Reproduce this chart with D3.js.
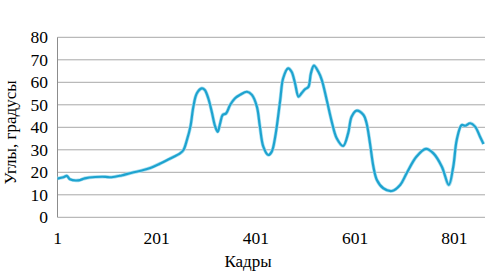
<!DOCTYPE html>
<html>
<head>
<meta charset="utf-8">
<script src="https://cdn.jsdelivr.net/npm/d3@7"></script>
<style>
  body { margin: 0; background: #fff; }
  text { font-family: "Liberation Serif", "Times New Roman", serif; fill: #000; }
</style>
</head>
<body>
<div id="chart"></div>
<script>
// frame numbers and angle values
var frames = [1, 13, 20, 26, 43, 56, 77, 97, 110, 130, 151, 171, 188, 207, 227, 248, 255,
  262, 269, 275, 282, 292, 298, 305, 312, 319, 324, 329, 334, 341, 349, 359, 369, 383,
  393, 403, 409, 416, 426, 433, 440, 450, 456, 466, 473, 480, 487, 493, 500, 507, 512,
  518, 527, 534, 544, 554, 564, 577, 587, 594, 604, 618, 624, 631, 638, 645, 658, 675,
  692, 705, 725, 744, 759, 776, 790, 799, 806, 816, 823, 833, 843, 853, 860];
var angles = [17.2, 17.8, 18.4, 16.9, 16.4, 17.3, 17.9, 18.0, 17.8, 18.6, 19.8, 20.8, 21.9,
  23.8, 26.0, 28.4, 29.9, 34.4, 40.3, 49.2, 55.1, 57.3, 56.6, 52.9, 46.9, 40.3, 38.0,
  41.8, 45.5, 46.2, 49.9, 52.9, 54.4, 55.8, 54.4, 49.2, 40.5, 31.4, 27.7, 29.2, 35.8,
  52.0, 61.8, 66.2, 64.7, 59.5, 53.6, 55.1, 56.9, 58.0, 64.0, 67.4, 64.7, 61.0, 52.0,
  42.5, 35.1, 31.7, 37.3, 44.7, 47.4, 45.5, 42.0, 33.0, 22.5, 16.6, 12.9, 11.7, 14.4,
  19.6, 27.0, 30.4, 28.4, 22.5, 14.4, 22.5, 34.4, 41.0, 40.7, 41.8, 40.3, 35.8, 32.6];
var yTicks = [0, 10, 20, 30, 40, 50, 60, 70, 80];
var xTicks = [1, 201, 401, 601, 801];

var data = frames.map(function(f, i) { return {f: f, v: angles[i]}; });

var width = 502, height = 272;
var plotLeft = 57.5, plotRight = 485, plotTop = 37.3, plotBottom = 217.3;

var svg = d3.select('#chart').append('svg')
    .attr('width', width)
    .attr('height', height);

var x = d3.scaleLinear().domain([1, 863]).range([plotLeft, plotRight]);
var y = d3.scaleLinear().domain([0, 80]).range([plotBottom, plotTop]);

// horizontal grid
svg.selectAll('line.grid')
    .data(yTicks).enter()
    .append('line')
      .attr('class', 'grid')
      .attr('x1', plotLeft)
      .attr('x2', plotRight)
      .attr('y1', function(d) { return y(d); })
      .attr('y2', function(d) { return y(d); })
      .attr('stroke', '#a8a8a8')
      .attr('stroke-width', 1);

// left axis line
svg.append('line')
    .attr('x1', plotLeft).attr('x2', plotLeft)
    .attr('y1', plotTop).attr('y2', plotBottom)
    .attr('stroke', '#8c8c8c')
    .attr('stroke-width', 1);

// y tick labels
svg.selectAll('text.ytick')
    .data(yTicks).enter()
    .append('text')
      .attr('class', 'ytick')
      .attr('x', 48)
      .attr('y', function(d) { return y(d); })
      .attr('dy', '0.35em')
      .attr('text-anchor', 'end')
      .style('font-size', '17.5px')
      .text(function(d) { return d; });

// x tick labels
svg.selectAll('text.xtick')
    .data(xTicks).enter()
    .append('text')
      .attr('class', 'xtick')
      .attr('x', function(d) { return x(d); })
      .attr('y', 243.5)
      .attr('text-anchor', 'middle')
      .style('font-size', '17.5px')
      .text(function(d) { return d; });

// axis titles
svg.append('text')
    .attr('x', 248)
    .attr('y', 266.5)
    .attr('text-anchor', 'middle')
    .style('font-size', '17px')
    .text('Кадры');

svg.append('text')
    .attr('transform', 'translate(16,132.5) rotate(-90)')
    .attr('text-anchor', 'middle')
    .style('font-size', '17px')
    .text('Углы, градусы');

// the series
var line = d3.line()
    .x(function(d) { return x(d.f); })
    .y(function(d) { return y(d.v); })
    .curve(d3.curveCatmullRom.alpha(0.5));

svg.append('path')
    .datum(data)
    .attr('d', line)
    .attr('fill', 'none')
    .attr('stroke', '#a6def0')
    .attr('stroke-width', 3.6)
    .attr('stroke-linejoin', 'round');

svg.append('path')
    .datum(data)
    .attr('d', line)
    .attr('fill', 'none')
    .attr('stroke', '#1ea3cf')
    .attr('stroke-width', 2.2)
    .attr('stroke-linejoin', 'round');
</script>
</body>
</html>
